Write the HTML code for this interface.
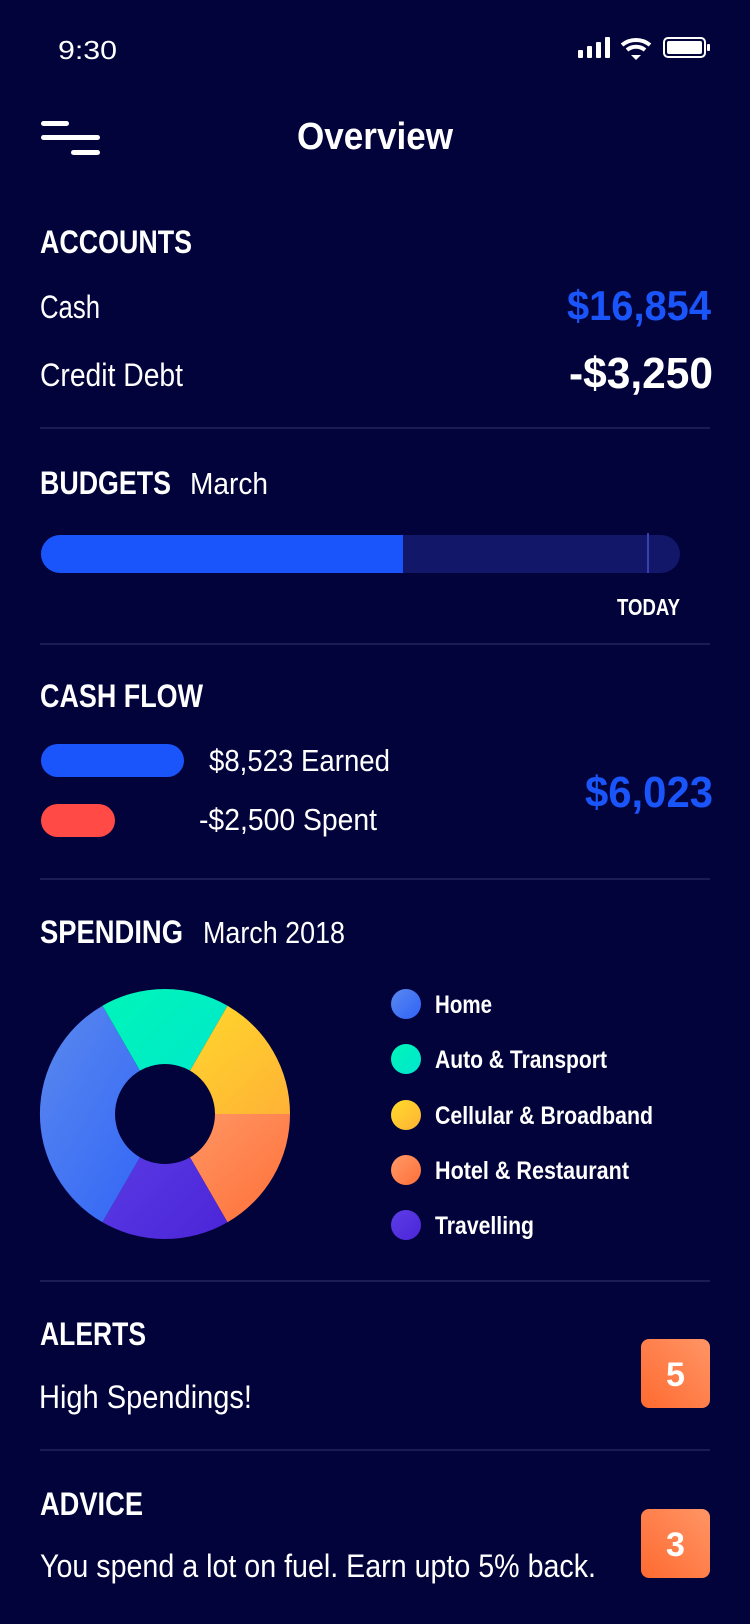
<!DOCTYPE html>
<html><head><meta charset="utf-8"><style>
html,body{margin:0;padding:0;background:#02033a;}
svg{display:block}
text{font-family:"Liberation Sans",sans-serif;fill:#fff}
.b{font-weight:bold}
</style></head><body>
<svg width="750" height="1624" viewBox="0 0 750 1624" xmlns="http://www.w3.org/2000/svg">
<defs>
<linearGradient id="gh" x1="0" y1="0" x2="1" y2="1"><stop offset="0" stop-color="#5a88ee"/><stop offset="1" stop-color="#2f63f8"/></linearGradient>
<linearGradient id="ga" x1="0" y1="0" x2="1" y2="1"><stop offset="0" stop-color="#00f5b8"/><stop offset="1" stop-color="#00e6cf"/></linearGradient>
<linearGradient id="gc" x1="0" y1="0" x2="1" y2="1"><stop offset="0" stop-color="#ffdb2a"/><stop offset="1" stop-color="#ffb236"/></linearGradient>
<linearGradient id="go" x1="0" y1="0" x2="1" y2="1"><stop offset="0" stop-color="#ff9a68"/><stop offset="1" stop-color="#ff6f38"/></linearGradient>
<linearGradient id="gt" x1="0" y1="0" x2="1" y2="1"><stop offset="0" stop-color="#5c3ee6"/><stop offset="1" stop-color="#4b25d8"/></linearGradient>
<linearGradient id="gb" x1="1" y1="0" x2="0" y2="1"><stop offset="0" stop-color="#ff9566"/><stop offset="1" stop-color="#ff6a30"/></linearGradient>
</defs>
<rect width="750" height="1624" fill="#02033a"/>
<!-- status -->
<text x="58" y="59" style="font-size:26px" textLength="59" lengthAdjust="spacingAndGlyphs">9:30</text>
<rect x="578" y="50" width="5" height="8" rx="1" fill="#fff"/>
<rect x="587" y="46" width="5" height="12" rx="1" fill="#fff"/>
<rect x="596" y="42" width="5" height="16" rx="1" fill="#fff"/>
<rect x="605" y="37" width="5" height="21" rx="1" fill="#fff"/>
<path d="M622 45 A22 22 0 0 1 650 45" stroke="#fff" stroke-width="4" fill="none"/>
<path d="M627 50 A14 14 0 0 1 645 50" stroke="#fff" stroke-width="4" fill="none"/>
<path d="M631 55 L636 60 L641 55 Z" fill="#fff"/>
<rect x="664" y="38" width="41" height="19" rx="4" fill="none" stroke="#fff" stroke-width="2"/>
<rect x="667" y="41" width="35" height="13" rx="2" fill="#fff"/>
<rect x="707" y="44" width="3" height="7" rx="1" fill="#fff"/>
<!-- header -->
<rect x="41" y="121" width="28" height="5" rx="2.5" fill="#fff"/>
<rect x="41" y="135" width="59" height="5" rx="2.5" fill="#fff"/>
<rect x="71" y="150" width="29" height="5" rx="2.5" fill="#fff"/>
<text x="297" y="149" class="b" style="font-size:38px" textLength="156" lengthAdjust="spacingAndGlyphs">Overview</text>
<!-- accounts -->
<text x="40" y="253" class="b" style="font-size:32px" textLength="152" lengthAdjust="spacingAndGlyphs">ACCOUNTS</text>
<text x="40" y="318" style="font-size:32px" textLength="60" lengthAdjust="spacingAndGlyphs">Cash</text>
<text x="567" y="320" class="b" style="font-size:42px;fill:#1a55fb" textLength="144" lengthAdjust="spacingAndGlyphs">$16,854</text>
<text x="40" y="386" style="font-size:32px" textLength="143" lengthAdjust="spacingAndGlyphs">Credit Debt</text>
<text x="569" y="388" class="b" style="font-size:44px" textLength="144" lengthAdjust="spacingAndGlyphs">-$3,250</text>
<rect x="40" y="427" width="670" height="2" fill="#1b1d52"/>
<!-- budgets -->
<text x="40" y="494" class="b" style="font-size:32px" textLength="131" lengthAdjust="spacingAndGlyphs">BUDGETS</text>
<text x="190" y="494" style="font-size:31px" textLength="78" lengthAdjust="spacingAndGlyphs">March</text>
<rect x="41" y="535" width="639" height="38" rx="19" fill="#13176a"/>
<path d="M60 535 H403 V573 H60 A19 19 0 0 1 60 535 Z" fill="#1a55fb"/>
<rect x="647" y="533" width="2" height="40" fill="#3a3fb0"/>
<text x="617" y="615" class="b" style="font-size:23px" textLength="63" lengthAdjust="spacingAndGlyphs">TODAY</text>
<rect x="40" y="643" width="670" height="2" fill="#1b1d52"/>
<!-- cash flow -->
<text x="40" y="707" class="b" style="font-size:32px" textLength="163" lengthAdjust="spacingAndGlyphs">CASH FLOW</text>
<rect x="41" y="744" width="143" height="33" rx="16.5" fill="#1a55fb"/>
<rect x="41" y="804" width="74" height="33" rx="16.5" fill="#ff4a45"/>
<text x="209" y="771" style="font-size:31px" textLength="181" lengthAdjust="spacingAndGlyphs">$8,523 Earned</text>
<text x="199" y="830" style="font-size:31px" textLength="178" lengthAdjust="spacingAndGlyphs">-$2,500 Spent</text>
<text x="585" y="807" class="b" style="font-size:44px;fill:#1a55fb" textLength="128" lengthAdjust="spacingAndGlyphs">$6,023</text>
<rect x="40" y="878" width="670" height="2" fill="#1b1d52"/>
<!-- spending -->
<text x="40" y="943" class="b" style="font-size:32px" textLength="143" lengthAdjust="spacingAndGlyphs">SPENDING</text>
<text x="203" y="943" style="font-size:31px" textLength="142" lengthAdjust="spacingAndGlyphs">March 2018</text>
<g transform="translate(165,1114)">
<path d="M0 0 L-62.5 108.3 A125 125 0 0 1 -62.5 -108.3 Z" fill="url(#gh)"/>
<path d="M0 0 L-62.5 -108.3 A125 125 0 0 1 62.5 -108.3 Z" fill="url(#ga)"/>
<path d="M0 0 L62.5 -108.3 A125 125 0 0 1 125 0 Z" fill="url(#gc)"/>
<path d="M0 0 L125 0 A125 125 0 0 1 62.5 108.3 Z" fill="url(#go)"/>
<path d="M0 0 L62.5 108.3 A125 125 0 0 1 -62.5 108.3 Z" fill="url(#gt)"/>
<circle r="50" fill="#02033a"/>
</g>
<circle cx="406" cy="1004" r="15" fill="url(#gh)"/>
<circle cx="406" cy="1059" r="15" fill="url(#ga)"/>
<circle cx="406" cy="1115" r="15" fill="url(#gc)"/>
<circle cx="406" cy="1170" r="15" fill="url(#go)"/>
<circle cx="406" cy="1225" r="15" fill="url(#gt)"/>
<text x="435" y="1013" class="b" style="font-size:25px" textLength="57" lengthAdjust="spacingAndGlyphs">Home</text>
<text x="435" y="1068" class="b" style="font-size:25px" textLength="172" lengthAdjust="spacingAndGlyphs">Auto &amp; Transport</text>
<text x="435" y="1124" class="b" style="font-size:25px" textLength="218" lengthAdjust="spacingAndGlyphs">Cellular &amp; Broadband</text>
<text x="435" y="1179" class="b" style="font-size:25px" textLength="194" lengthAdjust="spacingAndGlyphs">Hotel &amp; Restaurant</text>
<text x="435" y="1234" class="b" style="font-size:25px" textLength="99" lengthAdjust="spacingAndGlyphs">Travelling</text>
<rect x="40" y="1280" width="670" height="2" fill="#1b1d52"/>
<!-- alerts -->
<text x="40" y="1345" class="b" style="font-size:32px" textLength="106" lengthAdjust="spacingAndGlyphs">ALERTS</text>
<text x="39" y="1408" style="font-size:32px" textLength="213" lengthAdjust="spacingAndGlyphs">High Spendings!</text>
<rect x="641" y="1339" width="69" height="69" rx="8" fill="url(#gb)"/>
<text x="675.5" y="1386" text-anchor="middle" class="b" style="font-size:34px">5</text>
<rect x="40" y="1449" width="670" height="2" fill="#1b1d52"/>
<text x="40" y="1515" class="b" style="font-size:32px" textLength="103" lengthAdjust="spacingAndGlyphs">ADVICE</text>
<text x="40" y="1577" style="font-size:32px" textLength="556" lengthAdjust="spacingAndGlyphs">You spend a lot on fuel. Earn upto 5% back.</text>
<rect x="641" y="1509" width="69" height="69" rx="8" fill="url(#gb)"/>
<text x="675.5" y="1556" text-anchor="middle" class="b" style="font-size:34px">3</text>
</svg>
</body></html>
